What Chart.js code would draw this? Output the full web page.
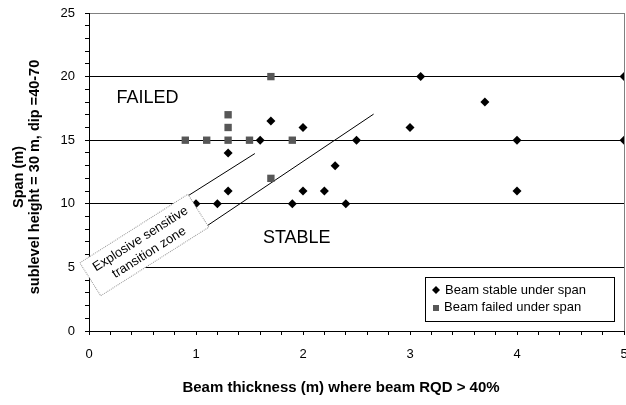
<!DOCTYPE html>
<html>
<head>
<meta charset="utf-8">
<script src="https://cdn.jsdelivr.net/npm/chart.js@4/dist/chart.umd.min.js"></script>
<style>
  html, body { margin: 0; padding: 0; background: #fff; overflow: hidden; }
  canvas { display: block; }
</style>
</head>
<body>
<canvas id="chart" width="626" height="405"></canvas>
<script>
// data
var stableX = [1.0, 1.2, 1.3, 1.3, 1.6, 1.7, 1.9, 2.0, 2.0, 2.2, 2.3, 2.4, 2.5, 3.0, 3.1, 3.7, 4.0, 4.0, 5.0, 5.0];
var stableY = [10, 10, 11, 14, 15, 16.5, 10, 16, 11, 11, 13, 10, 15, 16, 20, 18, 15, 11, 20, 15];
var failedX = [0.9, 1.1, 1.3, 1.3, 1.3, 1.5, 1.7, 1.7, 1.9];
var failedY = [15, 15, 15, 16, 17, 15, 20, 12, 15];
// the two lines bounding the transition zone
var upperX = [0.92, 1.55];
var upperY = [10.6, 13.95];
var lowerX = [1.10, 2.66];
var lowerY = [8.25, 17.05];
var seriesNames = ['Beam stable under span', 'Beam failed under span'];
var xTickLabels = [0, 1, 2, 3, 4, 5];
var yTickLabels = [0, 5, 10, 15, 20, 25];

var FONT = "'Liberation Sans', Arial, sans-serif";

function pts(xs, ys) {
  return xs.map(function (x, i) { return { x: x, y: ys[i] }; });
}
function isLabel(list, v) {
  for (var i = 0; i < list.length; i++) {
    if (Math.abs(list[i] - v) < 1e-6) return true;
  }
  return false;
}

var overlay = {
  id: 'overlay',
  afterDatasetsDraw: function (chart) {
    var ctx = chart.ctx, xs = chart.scales.x, ys = chart.scales.y, area = chart.chartArea;
    ctx.save();

    // rotated zone box
    ctx.save();
    ctx.translate(xs.getPixelForValue(0.517), ys.getPixelForValue(6.76));
    ctx.rotate(-32.4 * Math.PI / 180);
    ctx.fillStyle = '#fff';
    ctx.fillRect(-64, -19.5, 128, 39);
    ctx.setLineDash([1, 1]);
    ctx.strokeStyle = '#999';
    ctx.lineWidth = 1;
    ctx.strokeRect(-64, -19.5, 128, 39);
    ctx.setLineDash([]);
    ctx.fillStyle = '#000';
    ctx.font = '13px ' + FONT;
    ctx.textAlign = 'center';
    ctx.textBaseline = 'middle';
    ctx.fillText('Explosive sensitive', 0, -7);
    ctx.fillText('transition zone', 0, 9);
    ctx.restore();

    // region labels
    ctx.fillStyle = '#000';
    ctx.font = '18px ' + FONT;
    ctx.textAlign = 'left';
    ctx.textBaseline = 'alphabetic';
    ctx.fillText('FAILED', xs.getPixelForValue(0.257), ys.getPixelForValue(17.9));
    ctx.fillText('STABLE', xs.getPixelForValue(1.625), ys.getPixelForValue(6.89));

    // legend
    var lw = 189, lh = 44;
    var lx = Math.round(area.right - 10 - lw), ly = Math.round(area.bottom - 10 - lh);
    var ds = chart.data.datasets;
    ctx.fillStyle = '#fff';
    ctx.fillRect(lx, ly, lw, lh);
    ctx.strokeStyle = '#000';
    ctx.lineWidth = 1;
    ctx.strokeRect(lx + 0.5, ly + 0.5, lw, lh);
    ctx.fillStyle = ds[0].backgroundColor;
    ctx.beginPath();
    ctx.moveTo(lx + 7, ly + 13); ctx.lineTo(lx + 11, ly + 9);
    ctx.lineTo(lx + 15, ly + 13); ctx.lineTo(lx + 11, ly + 17);
    ctx.closePath(); ctx.fill();
    ctx.fillStyle = ds[1].backgroundColor;
    ctx.fillRect(lx + 8, ly + 28, 6, 6);
    ctx.fillStyle = '#000';
    ctx.font = '13px ' + FONT;
    ctx.textBaseline = 'middle';
    ctx.fillText(seriesNames[0], lx + 20, ly + 13);
    ctx.fillText(seriesNames[1], lx + 19, ly + 30);

    // axis titles
    ctx.font = 'bold 15px ' + FONT;
    ctx.textAlign = 'center';
    ctx.fillText('Beam thickness (m) where beam RQD > 40%', 341, 388);
    ctx.save();
    ctx.translate(19, 177);
    ctx.rotate(-Math.PI / 2);
    ctx.font = 'bold 14.5px ' + FONT;
    ctx.fillText('Span (m)', 0, 0);
    ctx.fillText('sublevel height = 30 m, dip =40-70', 0, 16);
    ctx.restore();

    ctx.restore();
  }
};

new Chart(document.getElementById('chart').getContext('2d'), {
  type: 'scatter',
  data: {
    datasets: [{
      label: seriesNames[0],
      data: pts(stableX, stableY),
      pointStyle: 'rectRot',
      radius: 4.5,
      backgroundColor: '#000',
      borderColor: '#000',
      borderWidth: 0
    }, {
      label: seriesNames[1],
      data: pts(failedX, failedY),
      pointStyle: 'rect',
      radius: 5.2,
      backgroundColor: '#575757',
      borderColor: '#575757',
      borderWidth: 0
    }, {
      label: 'upper',
      data: pts(upperX, upperY),
      showLine: true,
      pointRadius: 0,
      borderColor: '#000',
      borderWidth: 1
    }, {
      label: 'lower',
      data: pts(lowerX, lowerY),
      showLine: true,
      pointRadius: 0,
      borderColor: '#000',
      borderWidth: 1
    }]
  },
  options: {
    responsive: false,
    animation: false,
    layout: { autoPadding: false, padding: { top: 13, right: 2, left: 0, bottom: 0 } },
    plugins: {
      legend: { display: false },
      tooltip: { enabled: false }
    },
    scales: {
      x: {
        type: 'linear',
        min: 0,
        max: 5,
        afterFit: function (s) { s.height = 74; s.paddingLeft = 0; s.paddingRight = 0; },
        border: { color: '#000', width: 1 },
        grid: {
          color: function (c) { return c.tick && Math.abs(c.tick.value - 5) < 1e-6 ? '#808080' : 'rgba(0,0,0,0)'; },
          tickColor: '#000',
          tickLength: 4
        },
        ticks: {
          stepSize: 0.2,
          autoSkip: false,
          maxRotation: 0,
          padding: 12,
          color: '#000',
          font: { family: FONT, size: 13 },
          callback: function (v) { return isLabel(xTickLabels, v) ? String(Math.round(v)) : ''; }
        }
      },
      y: {
        min: 0,
        max: 25,
        afterFit: function (s) { s.width = 89; s.paddingTop = 0; s.paddingBottom = 0; },
        border: { color: '#000', width: 1 },
        grid: {
          color: function (c) {
            var v = c.tick ? c.tick.value : -1;
            if (v === 25) return '#808080';
            if (v === 5 || v === 10 || v === 15 || v === 20) return '#000';
            return 'rgba(0,0,0,0)';
          },
          tickColor: '#000',
          tickLength: 4
        },
        ticks: {
          stepSize: 1,
          autoSkip: false,
          padding: 10,
          color: '#000',
          font: { family: FONT, size: 13 },
          callback: function (v) { return isLabel(yTickLabels, v) ? String(v) : ''; }
        }
      }
    }
  },
  plugins: [overlay]
});
</script>
</body>
</html>
